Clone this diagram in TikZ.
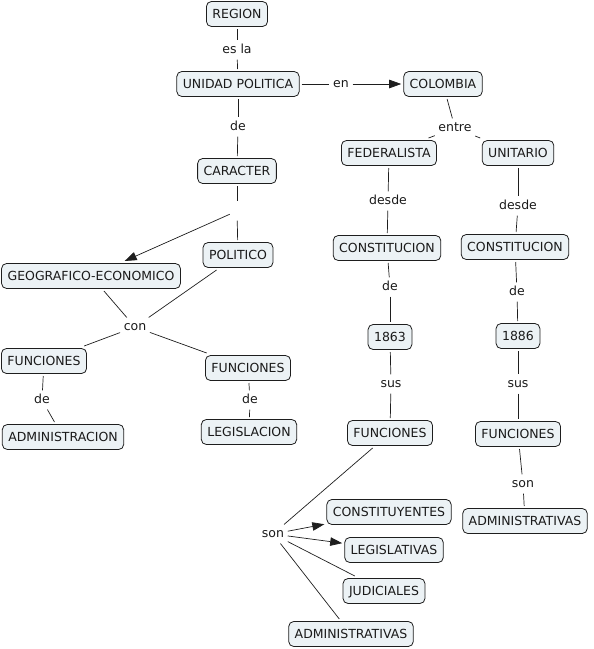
\documentclass[tikz,border=0pt]{standalone}
\usepackage{fontspec}
\setmainfont{DejaVu Sans}
\usepackage{tikz}
\usetikzlibrary{arrows.meta}
\definecolor{cfill}{RGB}{236,242,245}
\definecolor{cdraw}{HTML}{1E1E1E}
\definecolor{ink}{HTML}{1A1A1A}
\tikzset{
  concept/.style={rounded corners=5pt,draw=cdraw,fill=cfill,line width=0.8pt,
    minimum height=25pt,inner xsep=6pt,text height=9.1pt,text depth=0pt,
    outer sep=2.5pt,text=ink,font=\fontsize{12.5}{14}\selectfont},
  link/.style={inner sep=3.5pt,text=ink,font=\fontsize{12.5}{14}\selectfont,
    text height=9.1pt,text depth=2.6pt},
  conn/.style={draw=cdraw,line width=0.7pt},
  arr/.style={conn,-{Triangle[length=12pt,width=8.5pt]}},
}
\begin{document}
\begin{tikzpicture}[x=1pt,y=-1pt]
  \useasboundingbox (0,0) rectangle (594,649);
  % concepts
  \node[concept] (region) at (237,14) {REGION};
  \node[concept] (unidad) at (238,84) {UNIDAD POLITICA};
  \node[concept] (colombia) at (443,84) {COLOMBIA};
  \node[concept] (caracter) at (237,171) {CARACTER};
  \node[concept] (politico) at (238,255) {POLITICO};
  \node[concept] (geo) at (91,276) {GEOGRAFICO-ECONOMICO};
  \node[concept] (funcA) at (44,361) {FUNCIONES};
  \node[concept] (funcB) at (248,368) {FUNCIONES};
  \node[concept] (admin) at (63,437) {ADMINISTRACION};
  \node[concept] (legis) at (249,432) {LEGISLACION};
  \node[concept] (federal) at (389,153) {FEDERALISTA};
  \node[concept] (unitario) at (518,153) {UNITARIO};
  \node[concept] (constF) at (387,248) {CONSTITUCION};
  \node[concept] (constU) at (515,247) {CONSTITUCION};
  \node[concept] (y1863) at (390,337) {1863};
  \node[concept] (y1886) at (518,336) {1886};
  \node[concept] (funcF) at (390,433) {FUNCIONES};
  \node[concept] (funcU) at (518,434) {FUNCIONES};
  \node[concept] (adminU) at (525,521) {ADMINISTRATIVAS};
  \node[concept] (constit) at (389,512) {CONSTITUYENTES};
  \node[concept] (legisl) at (394,550) {LEGISLATIVAS};
  \node[concept] (judic) at (384,591) {JUDICIALES};
  \node[concept] (adminF) at (351,634) {ADMINISTRATIVAS};
  % linking phrases
  \node[link] (esla) at (237,50) {es la};
  \node[link] (en) at (341,84) {en};
  \node[link] (deA) at (238,127) {de};
  \node[link,minimum size=14pt] (blank) at (237,211) {};
  \node[link] (con) at (135,327) {con};
  \node[link] (deB) at (42,400) {de};
  \node[link] (deC) at (250,400) {de};
  \node[link] (entre) at (455,128) {entre};
  \node[link] (desdeF) at (388,201) {desde};
  \node[link] (desdeU) at (518,206) {desde};
  \node[link] (deF) at (390,287) {de};
  \node[link] (deU) at (517,292) {de};
  \node[link] (susF) at (391,384) {sus};
  \node[link] (susU) at (518,384) {sus};
  \node[link] (sonU) at (523,484) {son};
  \node[link] (sonF) at (273,534) {son};
  % connectors
  \foreach \a/\b in {region/esla,esla/unidad,unidad/en,unidad/deA,deA/caracter,
      caracter/blank,blank/politico,geo/con,politico/con,con/funcA,con/funcB,
      funcA/deB,deB/admin,funcB/deC,deC/legis,colombia/entre,entre/federal,
      entre/unitario,federal/desdeF,desdeF/constF,constF/deF,deF/y1863,
      y1863/susF,susF/funcF,unitario/desdeU,desdeU/constU,constU/deU,
      deU/y1886,y1886/susU,susU/funcU,funcU/sonU,sonU/adminU,funcF/sonF,
      sonF/judic,sonF/adminF}
    \draw[conn] (\a) -- (\b);
  \foreach \a/\b in {en/colombia,blank/geo,sonF/constit,sonF/legisl}
    \draw[arr] (\a) -- (\b);
\end{tikzpicture}
\end{document}
